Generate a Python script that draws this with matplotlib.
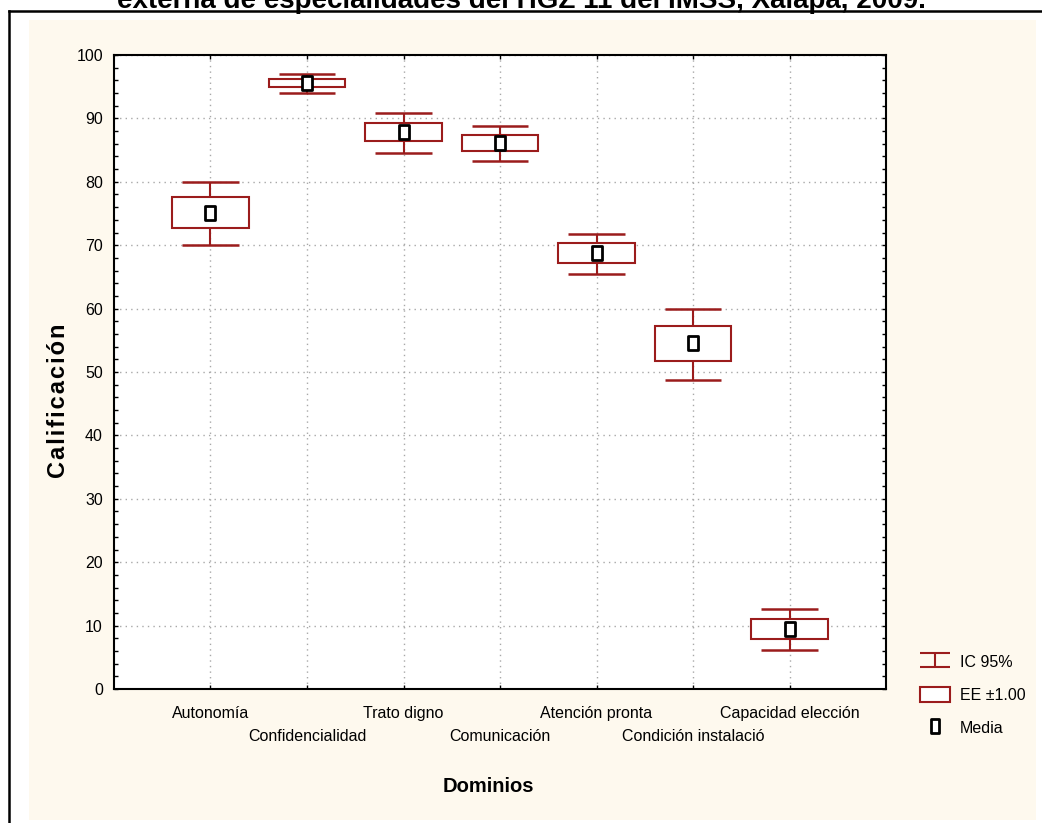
import matplotlib
matplotlib.use('Agg')
import matplotlib.pyplot as plt
from matplotlib import font_manager
from matplotlib.path import Path
from matplotlib.lines import Line2D
from matplotlib.patches import Patch, Rectangle
from matplotlib.ticker import MultipleLocator, FixedLocator

# Dominios y estadisticos
dominios = ['Autonomía', 'Confidencialidad', 'Trato digno', 'Comunicación',
            'Atención pronta', 'Condición instalació', 'Capacidad elección']
media = [75.1, 95.6, 87.85, 86.15, 68.8, 54.5, 9.5]
ee_bajo = [72.7, 94.95, 86.4, 84.9, 67.2, 51.7, 7.95]
ee_alto = [77.55, 96.2, 89.3, 87.4, 70.3, 57.25, 11.0]
ic_bajo = [70.0, 94.0, 84.5, 83.3, 65.4, 48.7, 6.2]
ic_alto = [79.9, 97.0, 90.85, 88.8, 71.8, 60.0, 12.6]

rojo = '#9b1c1c'
beige = '#fef9ee'

# fuente angosta si existe, si no Liberation Sans
instaladas = {f.name for f in font_manager.fontManager.ttflist}
if 'Liberation Sans Narrow' in instaladas:
    fuente, tam = 'Liberation Sans Narrow', 13
else:
    fuente, tam = 'Liberation Sans', 11.5
plt.rcParams['font.family'] = [fuente, 'DejaVu Sans']

fig = plt.figure(figsize=(10.42, 8.23), dpi=100)
fig.patch.set_facecolor('white')

# fondo beige y marco
fig.patches.append(Rectangle((0.0278, 0.0036), 0.9664, 0.972, transform=fig.transFigure,
                             facecolor=beige, edgecolor='none', zorder=-10))
fig.add_artist(Line2D([0.0086, 0.0086], [0, 0.9866], transform=fig.transFigure, color='black', lw=1.8))
fig.add_artist(Line2D([0.0086, 1], [0.9866, 0.9866], transform=fig.transFigure, color='black', lw=1.8))

fig.text(0.5, 0.990, 'externa de especialidades del HGZ 11 del IMSS, Xalapa, 2009.',
         ha='center', va='baseline', fontsize=20, fontweight='bold', family='Liberation Sans')

ax = fig.add_axes([0.1094, 0.1628, 0.7409, 0.7704])
ax.set_facecolor('white')

x = list(range(1, len(dominios) + 1))

# intervalos de confianza
ax.vlines(x, ic_bajo, ic_alto, color=rojo, lw=1.5, zorder=2)
ax.hlines(ic_bajo, [i - 0.295 for i in x], [i + 0.295 for i in x], color=rojo, lw=1.8, zorder=2)
ax.hlines(ic_alto, [i - 0.295 for i in x], [i + 0.295 for i in x], color=rojo, lw=1.8, zorder=2)

# cajas de error estandar
alturas = [a - b for a, b in zip(ee_alto, ee_bajo)]
ax.bar(x, alturas, bottom=ee_bajo, width=0.79, facecolor='white', edgecolor=rojo, lw=1.5, zorder=3)

# media
rect = Path([(-0.33, -0.5), (0.33, -0.5), (0.33, 0.5), (-0.33, 0.5), (-0.33, -0.5)],
            [Path.MOVETO, Path.LINETO, Path.LINETO, Path.LINETO, Path.CLOSEPOLY])
ax.plot(x, media, linestyle='none', marker=rect, markersize=10.5, markerfacecolor='white',
        markeredgecolor='black', markeredgewidth=2, zorder=4)

ax.set_xlim(0, 8)
ax.set_ylim(0, 100)
# etiquetas alternadas en dos filas: pares como mayores, impares como menores
ax.xaxis.set_major_locator(FixedLocator(x[0::2]))
ax.xaxis.set_minor_locator(FixedLocator(x[1::2]))
ax.set_xticklabels(dominios[0::2], fontsize=tam)
ax.set_xticklabels(dominios[1::2], minor=True, fontsize=tam)
ax.yaxis.set_major_locator(MultipleLocator(10))
ax.yaxis.set_minor_locator(MultipleLocator(2))
ax.tick_params(axis='both', which='both', direction='in', top=True, right=True, length=3, width=1)
ax.tick_params(axis='x', which='major', pad=12)
ax.tick_params(axis='x', which='minor', pad=29)
ax.tick_params(axis='y', which='major', labelsize=tam, pad=8)
ax.xaxis.grid(True, which='both', linestyle=(0, (1, 3)), color='#a8a8a8', lw=1)
ax.yaxis.grid(True, which='major', linestyle=(0, (1, 3)), color='#a8a8a8', lw=1)
ax.set_axisbelow(True)
for s in ax.spines.values():
    s.set_linewidth(1.5)

ax.set_xlabel('Dominios', fontsize=14.5, fontweight='bold', family='Liberation Sans')
ax.xaxis.set_label_coords(0.4845, -0.138)
ax.set_ylabel('\u200a'.join('Calificación'), fontsize=17, fontweight='bold',
              family=['Liberation Sans', 'DejaVu Sans'])
ax.yaxis.set_label_coords(-0.0575, 0.454)

# leyenda
ibeam = Path([(-1, 0.43), (1, 0.43), (0, 0.43), (0, -0.43), (-1, -0.43), (1, -0.43)],
             [Path.MOVETO, Path.LINETO, Path.MOVETO, Path.LINETO, Path.MOVETO, Path.LINETO])
handles = [
    Line2D([], [], linestyle='none', marker=ibeam, markersize=22, markerfacecolor='none',
           markeredgecolor=rojo, markeredgewidth=1.5),
    Patch(facecolor='white', edgecolor=rojo, lw=1.5),
    Line2D([], [], linestyle='none', marker=rect, markersize=9.5, markerfacecolor='white',
           markeredgecolor='black', markeredgewidth=2),
]
fig.legend(handles, ['IC 95%', 'EE ±1.00', 'Media'], loc='center left',
           bbox_to_anchor=(0.869, 0.156), frameon=False, fontsize=tam,
           handlelength=1.9, handleheight=1.06, labelspacing=1.07, handletextpad=0.6)

fig.savefig('out.png', dpi=100)
